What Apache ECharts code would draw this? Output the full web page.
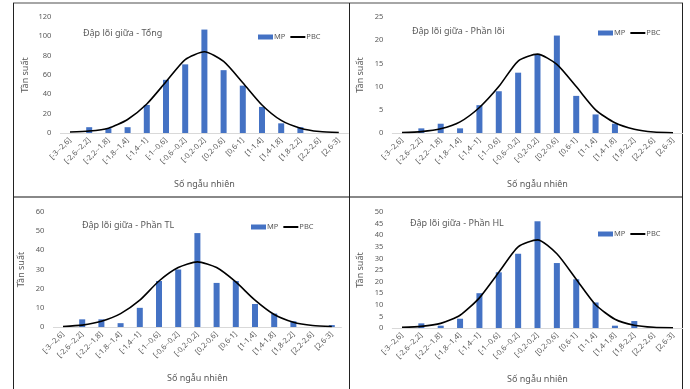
<!DOCTYPE html>
<html>
<head>
<meta charset="utf-8">
<script src="https://cdn.jsdelivr.net/npm/echarts@6/dist/echarts.min.js"></script>
<style>
  html, body { margin: 0; padding: 0; background: #fff; }
  #chart { width: 690px; height: 389px; }
</style>
</head>
<body>
<div id="chart"></div>
<script>
// categories (khoảng số ngẫu nhiên)
const categories = ['[-3--2,6]', '[-2,6--2,2]', '[-2,2--1,8]', '[-1,8--1,4]', '[-1,4--1]', '[-1--0,6]', '[-0,6--0,2]', '[-0,2-0,2]', '[0,2-0,6]', '[0,6-1]', '[1-1,4]', '[1,4-1,8]', '[1,8-2,2]', '[2,2-2,6]', '[2,6-3]']

const titles = ['Đập lõi giữa - Tổng', 'Đập lõi giữa - Phần lõi', 'Đập lõi giữa - Phần TL', 'Đập lõi giữa - Phần HL']

// MP = bars, PBC = curve
const mpTong = [0, 6, 5, 6, 29, 55, 71, 107, 65, 49, 27, 10, 6, 0, 0]
const pbcTong = [1, 2, 5, 14, 30, 53, 76, 84, 74, 52, 29, 13, 5, 1.5, 0.5]

const mpLoi = [0, 1, 2, 1, 6, 9, 13, 17, 21, 8, 4, 2, 0, 0, 0]
const pbcLoi = [0.1, 0.3, 0.9, 2.4, 5.5, 10, 15.5, 17, 14.8, 10, 5, 2.2, 0.8, 0.2, 0.05]

const mpTL = [0, 4, 4, 2, 10, 24, 30, 49, 23, 24, 12, 7, 3, 0, 1]
const pbcTL = [0.3, 1, 3, 7, 14, 24, 31, 34, 31, 23.5, 14, 6.5, 2.5, 0.8, 0.3]

const mpHL = [0, 2, 1, 4, 15, 24, 32, 46, 28, 21, 11, 1, 3, 0, 0]
const pbcHL = [0.3, 0.7, 2, 5.5, 13, 24, 35, 38, 32, 21, 10, 3.8, 1.2, 0.3, 0.1]

const yMax = [120, 25, 60, 50]
const yStep = [20, 5, 10, 5]

const mpData = [mpTong, mpLoi, mpTL, mpHL]
const pbcData = [pbcTong, pbcLoi, pbcTL, pbcHL]

const FONT = 'Noto Sans'
const GRAY = '#595959'

// layout of the 4 panels
const grids = [
  { left: 60.4, top: 17, width: 288, height: 116 },
  { left: 392.3, top: 17, width: 290.4, height: 116 },
  { left: 53.4, top: 212, width: 288, height: 115 },
  { left: 392.3, top: 212, width: 290.4, height: 116 }
]
const yNameGap = [30, 27, 27, 27]
const titlePos = [[83, 29], [412, 27], [82, 221], [410, 219]]
const legendPos = [[258, 33], [598, 29], [251, 223], [598, 230]]

let xAxes = []
let yAxes = []
let series = []
let titleList = []
let legends = []

for (let i = 0; i < 4; i++) {
  xAxes.push({
    type: 'category',
    gridIndex: i,
    data: categories,
    name: 'Số ngẫu nhiên',
    nameLocation: 'middle',
    nameGap: 47,
    nameTextStyle: { fontFamily: FONT, fontSize: 9, color: GRAY },
    axisLine: { lineStyle: { color: '#d9d9d9' } },
    axisTick: { show: false },
    axisLabel: { rotate: 45, interval: 0, fontFamily: FONT, fontSize: 7.5, color: GRAY, margin: 6 }
  })
  yAxes.push({
    type: 'value',
    gridIndex: i,
    min: 0,
    max: yMax[i],
    interval: yStep[i],
    name: 'Tần suất',
    nameLocation: 'middle',
    nameGap: yNameGap[i],
    nameTextStyle: { fontFamily: FONT, fontSize: 9, color: GRAY },
    splitLine: { show: false },
    axisLine: { show: false },
    axisTick: { show: false },
    axisLabel: { fontFamily: FONT, fontSize: 7.5, color: GRAY, margin: 9 }
  })
  series.push({
    name: 'MP',
    type: 'bar',
    xAxisIndex: i,
    yAxisIndex: i,
    data: mpData[i],
    barWidth: 6,
    itemStyle: { color: '#4472C4' }
  })
  series.push({
    name: 'PBC',
    type: 'line',
    xAxisIndex: i,
    yAxisIndex: i,
    data: pbcData[i],
    smooth: 0.22,
    symbol: 'none',
    lineStyle: { color: '#000', width: 1.6 },
    itemStyle: { color: '#000' }
  })
  titleList.push({
    text: titles[i],
    left: titlePos[i][0],
    top: titlePos[i][1],
    padding: 0,
    textStyle: { fontFamily: FONT, fontSize: 9, fontWeight: 'normal', color: GRAY }
  })
  legends.push({
    left: legendPos[i][0],
    top: legendPos[i][1],
    padding: 0,
    itemWidth: 15,
    itemHeight: 5,
    itemGap: 5,
    data: [
      { name: 'MP', icon: 'rect' },
      { name: 'PBC', icon: 'path://M0,0H20V2.6H0Z', itemStyle: { color: '#000' } }
    ],
    textStyle: { fontFamily: FONT, fontSize: 7.5, color: GRAY, padding: [0, 0, 0, -4] }
  })
}

// panel frame lines
const frame = [
  { type: 'line', shape: { x1: 13, y1: 3, x2: 683, y2: 3 }, style: { stroke: '#888', lineWidth: 1.5 } },
  { type: 'line', shape: { x1: 13, y1: 197, x2: 683, y2: 197 }, style: { stroke: '#888', lineWidth: 2 } },
  { type: 'line', shape: { x1: 13.5, y1: 3, x2: 13.5, y2: 389 }, style: { stroke: '#222', lineWidth: 1 } },
  { type: 'line', shape: { x1: 349.5, y1: 3, x2: 349.5, y2: 389 }, style: { stroke: '#222', lineWidth: 1 } },
  { type: 'line', shape: { x1: 682.5, y1: 3, x2: 682.5, y2: 389 }, style: { stroke: '#222', lineWidth: 1 } }
]

const chart = echarts.init(document.getElementById('chart'))
chart.setOption({
  animation: false,
  title: titleList,
  legend: legends,
  grid: grids,
  xAxis: xAxes,
  yAxis: yAxes,
  series: series,
  graphic: frame
})
</script>
</body>
</html>
